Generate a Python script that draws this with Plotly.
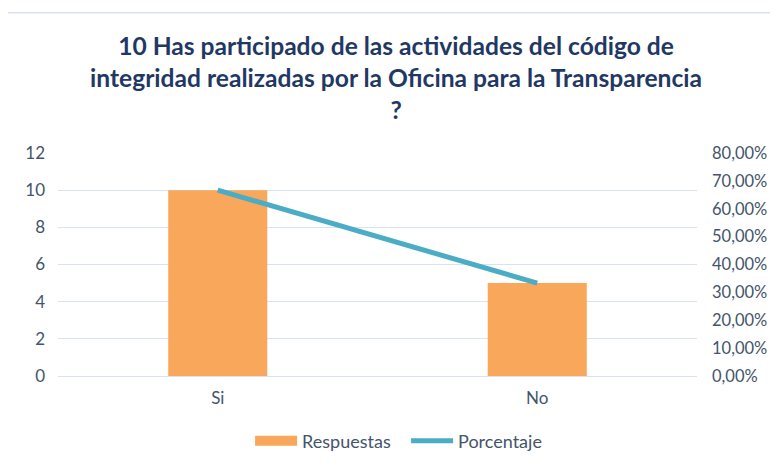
import plotly.graph_objs as go

categories = ["Si", "No"]
respuestas = [10, 5]
porcentaje = [0.6667, 0.3333]

orange = "#F9A75A"
teal = "#4BACC6"
navy = "#1F3864"
tick_color = "#44546A"
grid = "#D9E2F3"
font_family = "Lato, sans-serif"

fig = go.Figure([
    go.Bar(
        name="Respuestas",
        x=categories,
        y=respuestas,
        marker=dict(color=orange, line=dict(width=0)),
        width=0.31,
        showlegend=False,
    ),
    # legend-only entry so the swatch is a wide band like the original
    go.Scatter(
        name="Respuestas",
        x=[None],
        y=[None],
        mode="lines",
        line=dict(color=orange, width=10),
    ),
    go.Scatter(
        name="Porcentaje",
        x=categories,
        y=porcentaje,
        mode="lines",
        line=dict(color=teal, width=5),
        yaxis="y2",
    ),
])

fig.update_layout(
    width=770,
    height=462,
    margin=dict(l=50, r=81, t=145, b=93),
    paper_bgcolor="white",
    plot_bgcolor="white",
    font=dict(family=font_family, color=tick_color, size=17),
    title=dict(
        text="10 Has participado de las actividades del código de<br>"
             "integridad realizadas por la Oficina para la Transparencia<br>?",
        x=0.504, xanchor="center", xref="container",
        y=0.899, yanchor="top", yref="container",
        font=dict(family=font_family, size=24.6, color=navy, weight="bold"),
    ),
    xaxis=dict(showgrid=False, showline=False, ticks="", ticklabelstandoff=10,
               automargin=False),
    yaxis=dict(
        range=[0, 12], dtick=2, showgrid=True, gridcolor=grid, gridwidth=1,
        zeroline=True, zerolinecolor=grid, zerolinewidth=1, ticks="",
        ticklabelstandoff=12, automargin=False,
    ),
    yaxis2=dict(
        range=[0, 0.8], dtick=0.1, overlaying="y", side="right",
        showgrid=False, zeroline=False, tickformat=".2%", ticks="",
        ticklabelstandoff=14, automargin=False, tickfont=dict(size=16.5),
    ),
    separators=",.",
    legend=dict(
        orientation="h", x=0.3006, xanchor="left", y=-0.286, yanchor="middle",
        font=dict(size=18, color=tick_color), itemwidth=42, entrywidth=99,
    ),
    shapes=[dict(
        type="rect", xref="paper", yref="paper",
        x0=-0.08, x1=1.14, y0=-0.6, y1=1.629,
        line=dict(color=grid, width=1.5),
    )],
)

fig.write_html("out.html")
